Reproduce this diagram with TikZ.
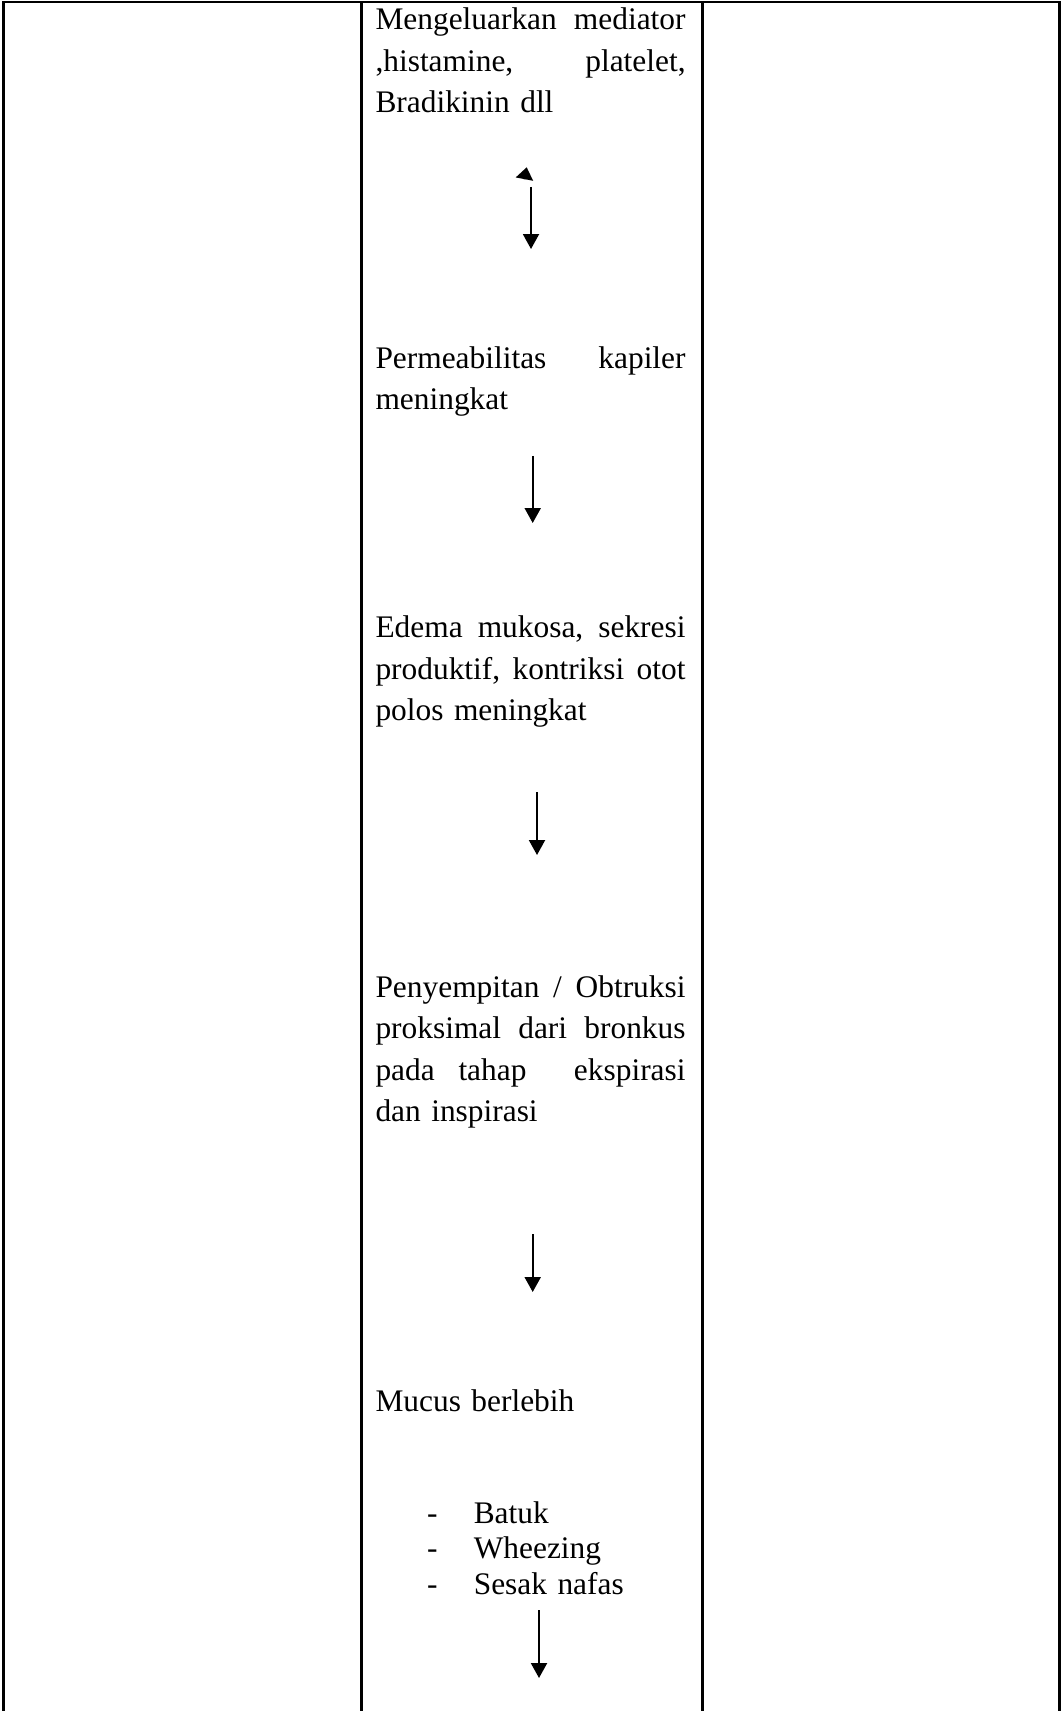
\documentclass[tikz,border=0pt]{standalone}
\usepackage{fontspec}
\setmainfont{Liberation Serif}
\usetikzlibrary{arrows.meta}
\tikzstyle{cell} = [line width=1pt]
\tikzstyle{para} = [anchor=base west, inner sep=0pt, text width=118.5pt, align=left, font=\fontsize{12}{15.86}\selectfont]
\tikzstyle{listing} = [anchor=base west, inner sep=0pt, text width=100pt, align=left, font=\fontsize{12}{13.57}\selectfont]
\tikzstyle{arrow} = [line width=0.75pt, -{Triangle[length=5.7pt, width=6.1pt]}]
\tikzstyle{tipup} = [line width=0.75pt, -{Triangle[length=4.6pt, width=6.6pt]}]

\begin{document}
\begin{tikzpicture}[x=0.3822pt, y=-0.3822pt]
    \useasboundingbox (0,0) rectangle (1062,1711);
    % table frame
    \draw [cell] (3.5,1711) -- (3.5,2) -- (1059.5,2) -- (1059.5,1711);
    \draw [cell] (361.5,2) -- (361.5,1711);
    \draw [cell] (702.5,2) -- (702.5,1711);

    \node [para] at (375,30) (mediator) {Mengeluarkan\hfill mediator\\ ,histamine,\hfill platelet,\\ Bradikinin dll};
    \node [para] at (375,368.5) (kapiler) {Permeabilitas\hfill kapiler\\ meningkat};
    \node [para] at (375,638) (edema) {Edema\hfill mukosa,\hfill sekresi\\ produktif,\hfill kontriksi\hfill otot\\ polos meningkat};
    \node [para] at (375,997.4) (obstruksi) {Penyempitan\hfill /\hfill Obtruksi\\ proksimal\hfill dari\hfill bronkus\\ pada\hfill tahap\hfill\hfill ekspirasi\\ dan inspirasi};
    \node [para] at (375,1411) (mucus) {Mucus berlebih};
    \node [listing] at (426.7,1523) (gejala) {\makebox[17.8pt][l]{-}Batuk\\ \makebox[17.8pt][l]{-}Wheezing\\ \makebox[17.8pt][l]{-}Sesak nafas};

    \coordinate (a1g) at (524.4,179.2);
    \coordinate (a1t) at (526.7,167.3);
    \coordinate (a1s) at (531,187);
    \coordinate (a1e) at (531,249);
    \coordinate (a2s) at (532.7,456);
    \coordinate (a2e) at (532.7,523);
    \coordinate (a3s) at (537,792);
    \coordinate (a3e) at (537,855);
    \coordinate (a4s) at (532.7,1234);
    \coordinate (a4e) at (532.7,1292);
    \coordinate (a5s) at (539,1610);
    \coordinate (a5e) at (539,1678);

    \draw [tipup] (a1g) -- (a1t);
    \draw [arrow] (a1s) -- (a1e);
    \draw [arrow] (a2s) -- (a2e);
    \draw [arrow] (a3s) -- (a3e);
    \draw [arrow] (a4s) -- (a4e);
    \draw [arrow] (a5s) -- (a5e);
\end{tikzpicture}
\end{document}
